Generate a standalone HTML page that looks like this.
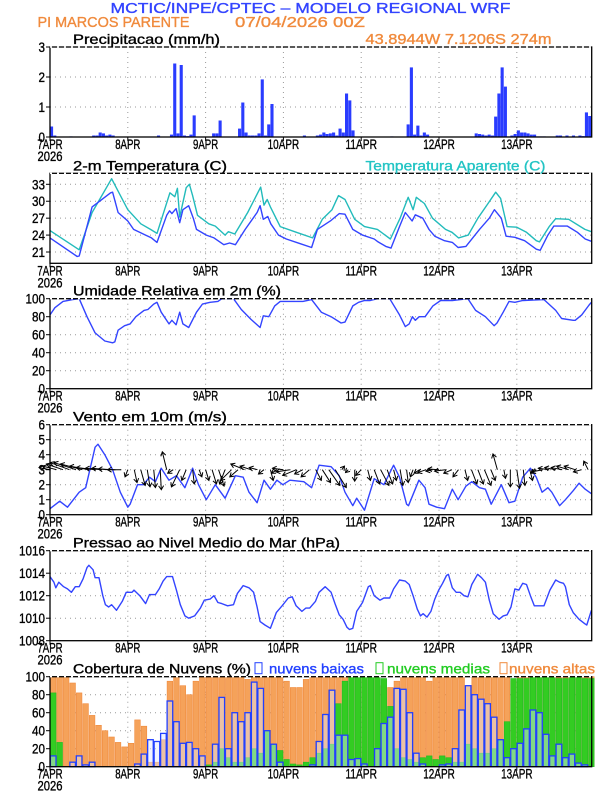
<!DOCTYPE html>
<html><head><meta charset="utf-8">
<style>
html,body{margin:0;padding:0;background:#fff;}
svg{display:block;font-family:"Liberation Sans",sans-serif;}
text{stroke-width:0.35px;}
</style></head>
<body>
<svg id="chart" width="612" height="792" viewBox="0 0 612 792" xmlns="http://www.w3.org/2000/svg"></svg>
<script>
// ---------- DATA ----------
const dayLabels = ["7APR","8APR","9APR","10APR","11APR","12APR","13APR"];
const precipHours = [0,1,6,13,14,15,16,17,18,19,33,37,38,39,40,41,42,43,44,50,51,52,58,59,60,61,62,63,64,65,66,67,68,78,82,83,84,85,86,87,88,89,90,91,92,93,105,110,111,112,113,114,115,116,131,132,133,134,135,136,137,138,139,140,141,142,143,144,145,146,147,148,149,150,151,152,156,157,159,161,163,164,165,166];
const precipVals = [0.35,0.05,0.02,0.05,0.05,0.15,0.12,0.05,0.08,0.05,0.05,0.08,2.45,0.12,2.4,0.05,0.03,0.08,0.72,0.12,0.12,0.55,0.28,1.15,0.15,0.05,0.05,0.05,0.12,1.92,0.05,0.42,1.1,0.05,0.05,0.08,0.15,0.1,0.12,0.15,0.05,0.28,0.15,1.45,1.22,0.22,0.02,0.42,2.32,0.08,0.38,0.05,0.15,0.08,0.12,0.1,0.08,0.05,0.08,0.05,0.68,1.45,2.32,1.68,0.02,0.05,0.1,0.22,0.15,0.15,0.12,0.08,0.08,0.02,0.02,0.02,0.05,0.05,0.05,0.05,0.05,0.03,0.82,0.7];
const precipTicks = [0,1,2,3];

const tempHours = [0,8.4,9,13,18.7,19.3,21,24,25.8,29.5,31.3,33,36,36.9,37.6,38.9,40,41,42.8,44.2,45.2,48.2,50.6,53.6,55.4,57.2,60.2,63.9,64.8,65.8,67.2,68.1,70.5,72.9,77.1,80.7,82.5,86.7,89.2,91,93.4,96.4,100,101.2,103.6,105.2,107.8,109.6,111.7,112.7,115,116.9,118.7,121.7,124.1,125.9,128.3,132.5,135.5,137.1,139.2,140.7,143.4,146.4,150,151.2,153.6,155.4,159.6,162.7,165.1,167];
const tempVals = [23.5,20.2,20.3,29,31.5,31.6,28,26.5,25,24,23.5,22.7,27.5,28.3,27.8,28.7,26.2,28.5,29.2,27,25,24,23.5,22.3,22.6,22.3,25,28,29.2,26.8,27.3,26,24,23.3,22.5,21.8,25,26.6,27.8,27.7,25,24,23.3,22.8,22,21.7,25.5,28,26.5,27.6,27,25,23.8,23,22.7,21.8,22,25,27,28.5,27,23.8,23.6,23,21.5,21.3,24,25.6,25.6,24.5,23.3,22.9];
const appHours = [0,9,13,19,24,28,31,33,37,38.5,39.3,40,42,43,44,45.5,49,51,54,55,57,61,65,66,67,68,71,76,81,84,87,89,91,94,97,101,105,108,110.5,112,113,115.5,118,122,124,126,129,132,135,137.5,139,141,144,147,150,151,154,156,160,165,167];
const appVals = [24.8,21.4,28,34,28.5,26,25,24.3,31.5,30.8,32.3,27.2,32.4,33,31,27.5,26,25.6,24,24.6,24.2,28,32.5,29.3,30.3,29,25.5,24.5,23.5,26.8,28.5,31,30.3,26.8,25.5,25,23.3,27,30.7,28.5,30.7,29.6,27,25,24.5,23.5,24,27,29.5,31.6,30.5,25.5,25.4,24.5,23,22.8,25.5,26.9,26.8,25,24.6];
const tempTicks = [21,24,27,30,33];

const rhHours = [0,1.5,4,7,9,11.4,13.9,16.9,19.3,20,21,23,24.7,26.5,29,30.2,32,33,34.3,36.7,37.6,38.9,40,41,42.8,45.2,47,49.4,51.8,53,56.6,59,62,64.8,65.8,67.5,69.3,71,78,80.7,83.7,86.7,89.8,91,93.4,95.2,97,98.8,101,104.8,107.8,109.6,110.8,111.8,112.7,113.9,115.7,118.1,120.5,124.1,128.9,131.3,134.3,137,137.9,139.8,141.6,143.4,145.8,152.4,156,157.8,161.4,162,164,166.3,167];
const rhVals = [82,90,97,99,100,80,62,53,51,52,65,70,72,80,87,88,94,96,85,72,76,71,85,72,68,85,94,96,97,100,100,88,77,68,81,80,92,97,97,99,85,80,73,74,92,96,98,98,100,100,82,69,72,80,76,80,80,92,98,98,100,87,80,70,73,85,97,96,98,99,87,78,76,76,82,93,96];
const rhTicks = [0,20,40,60,80,100];

const windHours = [0,3,5.4,9,11,13.9,14.8,16.9,19.3,21.7,24,24.7,27,28.8,30.7,32.5,34.3,36.7,39,41.6,44,45.8,48.2,51,54,57.2,59.6,61.4,63.9,66,68,70,71.8,74,78.3,80.7,83,86.7,89.2,91,93.4,94.6,97,100,103,106,107.8,110,110.6,113.8,115.7,116.9,119.3,121.7,124.1,125.9,128.3,130.1,132.5,134.3,136.1,139.2,141.6,143.4,145.8,148.2,150,151.8,153.6,154.8,157.2,159,161.4,163.2,165.1,167];
const windVals = [0.4,0.9,0.5,1.5,1.8,4.5,4.7,4,3,1.5,0.5,0.7,2,2,2.5,2.2,3.1,2.3,2.6,1.8,3.1,2,1,2,1.1,2.6,2.5,1.5,0.8,2.3,1.7,2.3,2,2.3,2.2,1.8,3.3,3.2,2.6,1.5,0.6,1.1,0.3,2.4,2,3.3,2.5,0.7,0.6,2.3,1.8,0.7,0.5,0.4,1.7,1,1.9,2.2,1.8,1.7,0.7,2,0.8,0.9,2.5,3.1,2.5,1.5,1.8,1.5,0.6,1,1.6,2.1,1.7,1.4];
const windU = [-2,-2.5,-3,-3.5,-4,-4,-3.5,-3.5,-3,-3,-3,-2.5,-0.5,0.5,0.8,0.5,0.3,0.2,-0.8,-1,-1.5,-0.8,0.3,0.5,0.6,0.8,1,-1,-2,-1.5,-2.5,-2,-1.5,-1,0.5,-1,-2,-2.5,-2.5,-1.5,-1.5,1,1.5,2,2,0.5,-0.5,0,-1,0.5,1,1.5,1,0.5,0.5,0.3,-0.5,-1,-1.5,-1.2,-2,-2,-1.5,-1,0.5,1,1,1.2,0.8,-0.8,0.3,0,0.5,0.3,0.5,-1,-2,-2,-2,-2,-2.2,-2,-1.5,-0.8];
const windV = [0.3,0.5,0.8,1,1,0.8,0.5,0.3,0.2,0.2,0.1,0,-1,-1.8,-2.2,-2.4,-2.5,-2.8,2.5,-0.5,-2.4,-1.5,-2,-1,-1.5,-2,-2.3,-2,-1.5,-1,0.8,0.5,0.3,-0.6,-1.5,-0.5,0.2,-0.3,-0.8,-0.6,-1,-1.5,-1.8,-2.2,-2.5,0.5,-0.4,-1.6,-0.8,-1.5,-2,-2.2,-2,-1.5,-2.2,-1.8,-1,-0.5,-0.4,-0.2,0.1,-0.2,-0.5,-1,-1.5,-2,-2,-2.2,-1.5,2.2,-1.2,-2.4,-2.6,-2.2,-1.5,-0.5,-0.3,0.2,0.3,0.3,0.5,0.5,-0.3,1.2];
const windTicks = [0,1,2,3,4,5,6];

const presHours = [0,1.2,1.8,2.7,4.2,5.4,6.6,7.8,9,10.2,11.4,12,13.3,13.9,15.1,16.3,17.1,18.1,19,20.5,22.3,23.5,25.3,25.9,27.7,29.5,30.7,32.5,33.7,34.9,36,37.8,39,40.2,41.6,42.8,44.6,46.4,47.6,49.4,50.6,51.8,53,54.8,56.6,57.8,59.6,61.4,62.8,63.9,64.8,66.3,68,69.8,71.6,73.5,74.7,75.9,77.7,78.9,80.1,81.9,83,84.9,86.7,87.9,89.2,90.4,91.6,92.4,93.4,94.6,96.4,98.2,98.8,100,101.8,103,104.8,106,107.8,109.6,110.8,112,113.3,114.3,115.1,116.3,117.5,118.7,119.9,121.1,122.3,122.9,124.1,125.3,126.5,127.7,128.9,130.1,131.9,133.1,134.3,135.5,136.7,138.5,139.8,141,142.2,143.4,144.6,145.8,147,148.2,149.4,151.2,152.4,154.2,156,157.2,158.4,159,160.2,161.4,163.2,165,165.6,167];
const presVals = [1013.7,1013.2,1012.7,1013.2,1012.8,1012.6,1012.3,1012.8,1012.8,1013.5,1014.5,1014.7,1014.3,1013.6,1013.6,1012,1011.2,1011,1011.2,1010.7,1011.5,1012.3,1012.3,1012.5,1012,1011.3,1012.1,1012.1,1012.6,1013.3,1013.7,1013.7,1012.5,1011.2,1010.2,1010,1010.2,1010.9,1011.6,1011.7,1012,1011.4,1011.3,1011.1,1011.2,1012.2,1012.9,1012.7,1012.3,1011,1009.7,1009.4,1009.1,1010.5,1011.1,1011.8,1011.9,1011.1,1010.6,1010.9,1010.9,1011.5,1012.3,1012.8,1012.3,1011.3,1010.3,1009.9,1009.2,1009,1009.1,1010.6,1011.4,1012.8,1012.9,1012,1011.6,1011.8,1011.8,1012.6,1013.4,1013.3,1013,1012,1010.8,1010.2,1010.4,1010.1,1010.6,1011.7,1012.5,1013.1,1013.8,1013.9,1012.7,1012.3,1012.3,1012,1011.9,1013,1013.9,1013.6,1013.2,1011.6,1010.4,1009.9,1010.2,1010.3,1011,1012.6,1012.5,1013.1,1013,1012,1011.1,1011.1,1011.1,1012.5,1013.4,1013.2,1013.1,1012.8,1011.2,1010.5,1009.9,1009.5,1009.4,1010.7];
const presTicks = [1008,1010,1012,1014,1016];

const cloudHigh = [100,100,100,93,82,70,57,46,40,33,27,22, 26,52,45,5,5,30,95,100,90,80,95,100, 100,100,100,100,100,100,97,100,100,100,100,100, 95,88,88,97,100,100,100,100,100,100,100,100, 100,100,100,90,88,95,100,100,100,100,95,100, 100,100,100,100,90,100,100,100,100,100,100,95, 100,100,100,100,100,100,100,100,100,100,100,100];
const cloudMid = [82,27,0,0,0,0,0,0,0,0,0,0, 0,0,0,0,0,0,0,0,0,0,0,0, 2,5,20,10,5,5,10,20,15,40,25,18, 8,3,2,5,10,15,20,25,70,95,100,100, 100,100,100,98,67,20,10,8,5,10,12,8, 12,10,5,5,25,20,15,15,20,30,50,98, 98,98,100,100,100,100,98,98,100,100,98,98];
const cloudLow = [12,0,0,5,12,2,5,0,0,0,0,0, 0,3,14,30,28,37,73,50,26,27,20,12, 0,25,77,20,60,50,60,94,87,40,25,5, 0,0,0,0,2,28,58,85,35,35,8,9, 3,0,20,48,55,87,86,60,15,3,0,0, 2,3,20,63,90,80,75,70,55,30,10,20, 26,42,63,60,36,12,25,10,14,4,2,0];
const cloudTicks = [0,20,40,60,80,100];

// ---------- LAYOUT ----------
const svg = document.getElementById('chart');
const NS = 'http://www.w3.org/2000/svg';
const X0 = 50, X1 = 591.7, HMAX = 167.1;
const xOf = h => X0 + h * (X1 - X0) / HMAX;
const PH = 90;
function el(tag, attrs, parent) {
  const e = document.createElementNS(NS, tag);
  for (const k in attrs) e.setAttribute(k, attrs[k]);
  (parent || svg).appendChild(e);
  return e;
}
function txt(x, y, s, opts, parent) {
  const c = opts.color || '#000';
  const t = el('text', {x: x, y: y, 'font-size': opts.size || 14, fill: c, stroke: c,
    'text-anchor': opts.anchor || 'start'}, parent);
  if (opts.len) { t.setAttribute('textLength', opts.len); t.setAttribute('lengthAdjust', 'spacingAndGlyphs'); }
  t.textContent = s;
  return t;
}
function makeScale(top, lo, hi) { return v => top + PH - (v - lo) / (hi - lo) * PH; }

function panel(name, top, lo, hi, ticks, title, showYear) {
  const g = el('g', {});
  
  
  const y = makeScale(top, lo, hi);
  const grid = el('g', {stroke: '#999', 'stroke-width': 1, 'stroke-dasharray': '1,4'}, g);
  
  
  for (let d = 1; d < 7; d++) el('line', {x1: xOf(d*24), x2: xOf(d*24), y1: top, y2: top+PH}, grid);
  ticks.forEach(t => { if (t > lo && t < hi) el('line', {x1: X0, x2: X1, y1: y(t), y2: y(t)}, grid); });
  const yax = el('g', {}, g);
  
  
  ticks.forEach(t => {
    el('line', {x1: X0-4, x2: X0, y1: y(t), y2: y(t), stroke: '#000', 'stroke-width': 1}, yax);
    const s = String(t);
    txt(X0-5, y(t)+5, s, {anchor: 'end', len: s.length*6.5}, yax);
  });
  const xax = el('g', {}, g);
  
  
  dayLabels.forEach((lab, i) => {
    el('line', {x1: xOf(i*24), x2: xOf(i*24), y1: top+PH, y2: top+PH+4, stroke: '#000'}, xax);
    txt(xOf(i*24), top+PH+12, lab, {anchor: 'middle', len: lab.length*6.3}, xax);
  });
  if (showYear) txt(X0, top+PH+24, '2026', {anchor: 'middle', len: 25}, xax);
  const tt = txt(title.x, top-3, title.text, {len: title.len}, g);
  
  
  return {g, y};
}
function frame(g, top) {
  const f = el('rect', {x: X0, y: top, width: X1-X0, height: PH, fill: 'none', stroke: '#000', 'stroke-width': 1.3}, g);
  
  
  el('line', {x1: X0, x2: X1, y1: top, y2: top, stroke: '#fff', 'stroke-width': 1.4, 'stroke-dasharray': '2,5'}, g);
}
function line(g, hours, vals, y, color, name) {
  const pts = hours.map((h, i) => xOf(h).toFixed(1) + ',' + y(vals[i]).toFixed(1)).join(' ');
  const p = el('polyline', {points: pts, fill: 'none', stroke: color, 'stroke-width': 1.4, 'stroke-linejoin': 'round'}, g);
  
  
}

// ---------- HEADER ----------
const h1 = txt(110.5, 13, 'MCTIC/INPE/CPTEC – MODELO REGIONAL WRF', {color: '#3344ff', size: 15, len: 400});


const h2 = txt(37.5, 27, 'PI MARCOS PARENTE', {color: '#f08a3c', size: 15, len: 152});


const h3 = txt(235, 27, '07/04/2026 00Z', {color: '#f08a3c', size: 15, len: 130});


const h4 = txt(365.5, 44, '43.8944W 7.1206S 274m', {color: '#f08a3c', size: 15, len: 186});



// ---------- PRECIP ----------
{
  const top = 47;
  const P = panel('precipitation-panel', top, 0, 3, precipTicks, {x: 73, text: 'Precipitacao (mm/h)', len: 147}, true);
  precipHours.forEach((h, i) => {
    const b = el('rect', {x: xOf(h), y: P.y(precipVals[i]), width: 3.1, height: P.y(0) - P.y(precipVals[i]), fill: '#2a3cff'}, P.g);
    
    
  });
  frame(P.g, top);
}
// ---------- TEMPERATURE ----------
{
  const top = 173.3;
  const P = panel('temperature-panel', top, 19.0, 34.95, tempTicks, {x: 73, text: '2-m Temperatura (C)', len: 154}, true);
  line(P.g, appHours, appVals, P.y, '#22bbbb', 'apparent-temperature-line');
  line(P.g, tempHours, tempVals, P.y, '#3344ff', 'temperature-line');
  const l = txt(365.5, top-3, 'Temperatura Aparente (C)', {color: '#22c4c4', len: 180});
  
  
  frame(P.g, top);
}
// ---------- RH ----------
{
  const top = 298.7;
  const P = panel('humidity-panel', top, 0, 100, rhTicks, {x: 73, text: 'Umidade Relativa em 2m (%)', len: 208}, true);
  line(P.g, rhHours, rhVals, P.y, '#3344ff', 'humidity-line');
  frame(P.g, top);
}
// ---------- WIND ----------
{
  const top = 424.7;
  const P = panel('wind-panel', top, 0, 6, windTicks, {x: 73, text: 'Vento em 10m (m/s)', len: 154}, true);
  line(P.g, windHours, windVals, P.y, '#3344ff', 'wind-speed-line');
  const ag = el('g', {stroke: '#000', 'stroke-width': 1, fill: 'none'}, P.g);
  
  
  const S = 5.5;
  windU.forEach((u, i) => {
    const x = xOf(i*2), y = P.y(3);
    const dx = u*S, dy = -windV[i]*S*1.3;
    const x2 = x + dx, y2 = y + dy;
    const L = Math.hypot(dx, dy) || 1, ux = dx/L, uy = dy/L;
    const a = el('path', {d: `M${x},${y}L${x2},${y2}M${x2-4*ux+2.5*uy},${y2-4*uy-2.5*ux}L${x2},${y2}L${x2-4*ux-2.5*uy},${y2-4*uy+2.5*ux}`}, ag);
    
    
  });
  frame(P.g, top);
}
// ---------- PRESSURE ----------
{
  const top = 550.7;
  const P = panel('pressure-panel', top, 1008, 1016, presTicks, {x: 73, text: 'Pressao ao Nivel Medio do Mar (hPa)', len: 267}, true);
  line(P.g, presHours, presVals, P.y, '#3344ff', 'pressure-line');
  frame(P.g, top);
}
// ---------- CLOUDS ----------
{
  const top = 676.7;
  const P = panel('cloud-panel', top, 0, 100, cloudTicks, {x: 73, text: 'Cobertura de Nuvens (%)', len: 178}, true);
  const bw = 5.6;
  const series = [
    [cloudHigh, '#f5a25a', '#f08a3c', 'high-cloud-bar'],
    [cloudMid, '#33cc22', '#22bb22', 'mid-cloud-bar'],
    [cloudLow, 'rgba(225,230,255,0.45)', '#2240ff', 'low-cloud-bar']
  ];
  series.forEach(([vals, fill, stroke, nm]) => {
    vals.forEach((v, i) => {
      if (v <= 0) return;
      const x = xOf(i*2) + 0.4;
      const b = el('rect', {x: x, y: P.y(v), width: bw, height: P.y(0) - P.y(v), fill: fill, stroke: stroke, 'stroke-width': nm === 'low-cloud-bar' ? 1.3 : 0.6}, P.g);
      
      
    });
  });
  const lg = el('g', {}, P.g);
  
  
  el('rect', {x: 255, y: top-14, width: 7, height: 11, fill: 'none', stroke: '#2240ff', 'stroke-width': 1}, lg);
  txt(269, top-3, 'nuvens baixas', {color: '#2240ff', len: 95}, lg);
  el('rect', {x: 376, y: top-14, width: 7, height: 11, fill: 'none', stroke: '#22cc22', 'stroke-width': 1}, lg);
  txt(387, top-3, 'nuvens medias', {color: '#22cc22', len: 103}, lg);
  el('rect', {x: 500, y: top-14, width: 7, height: 11, fill: 'none', stroke: '#f08a3c', 'stroke-width': 1}, lg);
  txt(509, top-3, 'nuvens altas', {color: '#f08a3c', len: 86}, lg);
  frame(P.g, top);
}
</script>
</body></html>
